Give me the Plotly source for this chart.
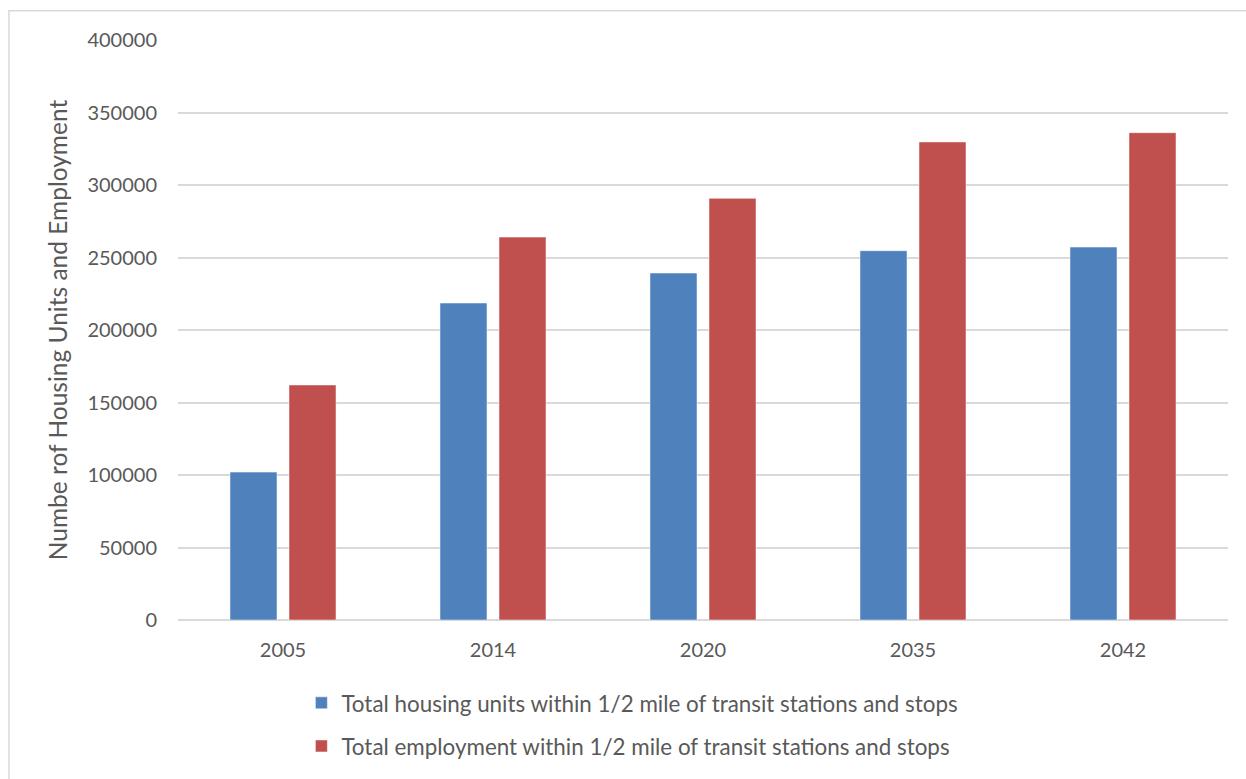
import plotly.graph_objects as go

years = ["2005", "2014", "2020", "2035", "2042"]
housing = [102000, 218600, 239300, 254700, 257200]
employment = [162100, 264100, 290800, 329700, 336100]
y_ticks = [0, 50000, 100000, 150000, 200000, 250000, 300000, 350000, 400000]

housing_name = "Total housing units within 1/2 mile of transit stations and stops"
employment_name = "Total employment within 1/2 mile of transit stations and stops"

FONT = "Lato"
TXT = "#595959"
GRID = "#d9d9d9"

fig = go.Figure()
fig.add_trace(go.Bar(
    x=years, y=housing, name=housing_name, legendgroup="a",
    marker=dict(color="#4F81BD", line=dict(color="rgba(255,255,255,0.5)", width=1)),
))
fig.add_trace(go.Bar(
    x=years, y=employment, name=employment_name, legendgroup="b",
    marker=dict(color="#C0504D", line=dict(color="rgba(255,255,255,0.5)", width=1)),
))

fig.update_layout(
    width=1246, height=779,
    margin=dict(l=178, r=18, t=40, b=159, autoexpand=False),
    paper_bgcolor="white", plot_bgcolor="white",
    font=dict(family=FONT, size=20, color=TXT),
    barmode="group", bargap=0.438, bargroupgap=0.203,
    showlegend=True,
    legend=dict(
        orientation="v", x=0.1175, y=-0.1065, xanchor="left", yanchor="top",
        font=dict(family=FONT, size=22.4, color=TXT),
        tracegroupgap=11, itemwidth=30, traceorder="grouped",
        bgcolor="rgba(0,0,0,0)",
    ),
    xaxis=dict(
        showgrid=False, showline=False, ticks="",
        tickfont=dict(family=FONT, size=20, color=TXT),
        ticklabelstandoff=16,
    ),
    yaxis=dict(
        range=[0, 400000], tickvals=y_ticks, ticktext=[str(v) for v in y_ticks],
        showgrid=True, gridcolor=GRID, gridwidth=1.5,
        zeroline=True, zerolinecolor=GRID, zerolinewidth=1.5,
        showline=False, ticks="",
        tickfont=dict(family=FONT, size=20, color=TXT),
        ticklabelstandoff=20,
        title=dict(text="Numbe rof Housing Units and Employment",
                   font=dict(family=FONT, size=24.5, color=TXT), standoff=12),
    ),
    shapes=[dict(type="rect", xref="paper", yref="paper",
                 x0=-0.161, x1=1.05, y0=-0.35, y1=1.0505,
                 line=dict(color=GRID, width=1.5), fillcolor="rgba(0,0,0,0)",
                 layer="below")],
)

fig.write_html("out.html")
